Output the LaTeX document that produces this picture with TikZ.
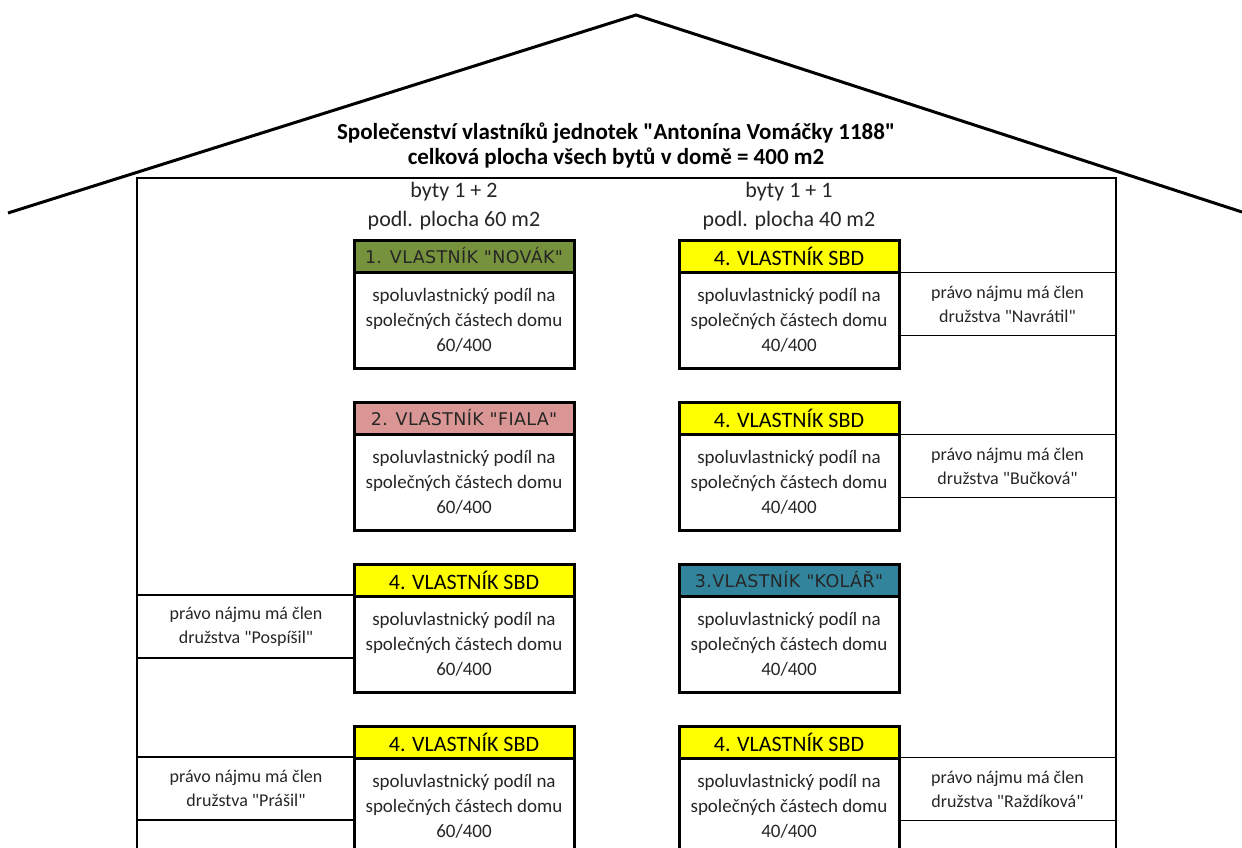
\documentclass[tikz,border=0pt]{standalone}
\usepackage{fontspec}
\newfontfamily\cf{Carlito}
\newfontfamily\gf{DejaVu Sans}[LetterSpace=2]
\definecolor{ownA}{HTML}{76923C}
\definecolor{ownB}{HTML}{DA9694}
\definecolor{ownC}{HTML}{31849B}
\definecolor{ownD}{HTML}{FFFF00}
\begin{document}
\begin{tikzpicture}[x=1pt,y=-1pt,
  head/.style={draw=black, line width=3pt, minimum width=220pt, minimum height=32pt, inner sep=0pt, outer sep=0pt, font=\cf\fontsize{22}{22}\selectfont},
  ghead/.style={head, font=\gf\fontsize{17.5}{18}\selectfont, text=black!85},
  body/.style={draw=black, line width=3pt, fill=white, minimum width=220pt, minimum height=96pt, inner sep=0pt, outer sep=0pt, align=center, font=\cf\fontsize{19}{25}\selectfont, text=black!85},
  side/.style={minimum width=217pt, minimum height=63pt, inner sep=0pt, outer sep=0pt, align=center, font=\cf\fontsize{18}{24}\selectfont, text=black!85},
  thin/.style={line width=1.5pt},
  wall/.style={line width=2.5pt},
  lbl/.style={font=\cf\fontsize{22}{29}\selectfont, align=center, text=black!85},
  ttl/.style={font=\cf\bfseries\fontsize{23}{25}\selectfont, align=center}]
\useasboundingbox (0,0) rectangle (1242,848);
\clip (0,0) rectangle (1242,848);
% roof and walls
\coordinate (rl) at (8,213);
\coordinate (apex) at (636,15);
\coordinate (rr) at (1242,212);
\draw[line width=3pt, line join=miter] (rl) -- (apex) -- (rr);
\coordinate (wbl) at (137,870);
\coordinate (wtl) at (137,178);
\coordinate (wtr) at (1116,178);
\coordinate (wbr) at (1116,870);
\draw[wall] (wbl) -- (wtl) -- (wtr) -- (wbr);
% titles
\node[ttl] (t1) at (616,133) {Společenství vlastníků jednotek "Antonína Vomáčky 1188"};
\node[ttl] (t2) at (616,158) {celková plocha všech bytů v domě = 400 m2};
\node[lbl] (cl) at (454,206) {byty 1 + 2\\podl. plocha 60 m2};
\node[lbl] (cr) at (789,206) {byty 1 + 1\\podl. plocha 40 m2};
% left column
\node[ghead, fill=ownA] (h1) at (464,256) {1. VLASTNÍK "NOVÁK"};
\node[body] (b1) at (464,320) {spoluvlastnický podíl na\\společných částech domu\\60/400};
\node[ghead, fill=ownB] (h2) at (464,418) {2. VLASTNÍK "FIALA"};
\node[body] (b2) at (464,482) {spoluvlastnický podíl na\\společných částech domu\\60/400};
\node[head, fill=ownD] (h3) at (464,580) {4. VLASTNÍK SBD};
\node[body] (b3) at (464,644) {spoluvlastnický podíl na\\společných částech domu\\60/400};
\node[head, fill=ownD] (h4) at (464,742) {4. VLASTNÍK SBD};
\node[body] (b4) at (464,806) {spoluvlastnický podíl na\\společných částech domu\\60/400};
% right column
\node[head, fill=ownD] (h5) at (789,256) {4. VLASTNÍK SBD};
\node[body] (b5) at (789,320) {spoluvlastnický podíl na\\společných částech domu\\40/400};
\node[head, fill=ownD] (h6) at (789,418) {4. VLASTNÍK SBD};
\node[body] (b6) at (789,482) {spoluvlastnický podíl na\\společných částech domu\\40/400};
\node[ghead, fill=ownC] (h7) at (789,580) {3.VLASTNÍK "KOLÁŘ"};
\node[body] (b7) at (789,644) {spoluvlastnický podíl na\\společných částech domu\\40/400};
\node[head, fill=ownD] (h8) at (789,742) {4. VLASTNÍK SBD};
\node[body] (b8) at (789,806) {spoluvlastnický podíl na\\společných částech domu\\40/400};
% tenants right
\node[side] (s1) at (1007.5,304) {právo nájmu má člen\\družstva "Navrátil"};
\node[side] (s2) at (1007.5,466) {právo nájmu má člen\\družstva "Bučková"};
\node[side] (s4) at (1007.5,789) {právo nájmu má člen\\družstva "Raždíková"};
% tenants left
\node[side] (s3) at (246,626.5) {právo nájmu má člen\\družstva "Pospíšil"};
\node[side] (s5) at (246,788.5) {právo nájmu má člen\\družstva "Prášil"};
\foreach \s in {s1,s2,s4,s3,s5}{
  \draw[thin] (\s.north west) -- (\s.north east);
  \draw[thin] (\s.south west) -- (\s.south east);
}
\end{tikzpicture}
\end{document}
